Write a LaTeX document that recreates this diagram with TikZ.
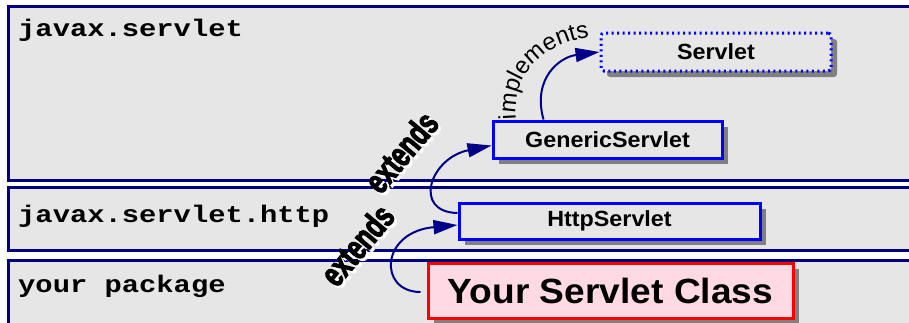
\documentclass[tikz,border=0pt]{standalone}
\usepackage{fontspec}
\usepackage{tikz}
\usetikzlibrary{arrows.meta,shadows,decorations.text}
\newfontfamily\pkgfont[FakeStretch=1.2]{Liberation Mono}
\newfontfamily\boxfont[FakeStretch=1.06]{Liberation Sans}
\newfontfamily\extfont[FakeStretch=0.7,FakeBold=3]{Liberation Sans}
\newfontfamily\implfont{Liberation Sans}
\definecolor{panelgray}{HTML}{E6E6E6}
\definecolor{pkgnavy}{HTML}{000080}
\definecolor{arrnavy}{HTML}{000088}
\definecolor{boxpink}{HTML}{FFD9E3}
\definecolor{shadegray}{HTML}{808080}
\tikzset{
	panel/.style={draw=pkgnavy, line width=3pt, fill=panelgray},
	pkglabel/.style={anchor=base west, inner sep=0pt, font=\pkgfont\bfseries\fontsize{24}{24}\selectfont},
	classbox/.style={draw=blue, line width=3pt, fill=panelgray, inner sep=0pt,
		drop shadow={shadow xshift=6pt, shadow yshift=-6pt, opacity=1, fill=shadegray},
		font=\boxfont\bfseries\fontsize{22}{22}\selectfont},
	ifacebox/.style={classbox, rounded corners=3pt, dash pattern=on 2pt off 3.5pt},
	userbox/.style={classbox, draw=red, fill=boxpink, font=\boxfont\bfseries\fontsize{35}{35}\selectfont},
	extlabel/.style={inner sep=0pt, rotate=50, font=\extfont\bfseries\fontsize{35}{35}\selectfont},
	extshade/.style={extlabel, text=white},
	arr/.style={draw=arrnavy, line width=2pt, -{Triangle[length=24pt,width=14pt]}}
}
\begin{document}
\begin{tikzpicture}[x=1pt, y=-1pt]
	\useasboundingbox (0,0) rectangle (909,322);
	\clip (0,0) rectangle (909,322);
	% packages
	\draw[panel] (8,6) rectangle (935,180.5);
	\draw[panel] (8,187.5) rectangle (935,250.5);
	\draw[panel] (8,260) rectangle (935,345);
	\node[pkglabel] (servletpkg) at (18,36) {javax.servlet};
	\node[pkglabel] (httppkg) at (18,222) {javax.servlet.http};
	\node[pkglabel] (userpkg) at (18,292) {your package};
	% classes
	\node[ifacebox, minimum width=230pt, minimum height=38pt] (servlet) at (716,52) {Servlet};
	\node[classbox, minimum width=229pt, minimum height=37pt] (generic) at (607.5,139.5) {GenericServlet};
	\node[classbox, minimum width=301pt, minimum height=36pt] (http) at (609.5,221) {HttpServlet};
	\node[userbox, minimum width=365pt, minimum height=55pt] (user) at (610.5,290.5) {Your Servlet Class};
	% relations
	\draw[arr] ([xshift=-64pt]generic.north) .. controls (532,78) and (560,57) .. (servlet.west);
	\path[decorate, decoration={text along path, text={|\implfont\fontsize{24}{24}\selectfont|implements}}]
		(516,119) .. controls (512,70) and (548,38) .. (604,36);
	\draw[arr] ([yshift=8pt]http.west) .. controls (412,212) and (430,158) .. ([yshift=-6pt]generic.west);
	\draw[arr] ([xshift=-6pt,yshift=-1.5pt]user.west) .. controls (378,292) and (380,232) .. ([yshift=-4pt]http.west);
	\node[extshade] (ext1s) at (403.5,154.5) {extends};
	\node[extlabel] (ext1) at (401,152) {extends};
	\node[extshade] (ext2s) at (359.5,247.5) {extends};
	\node[extlabel] (ext2) at (357,245) {extends};
\end{tikzpicture}
\end{document}
